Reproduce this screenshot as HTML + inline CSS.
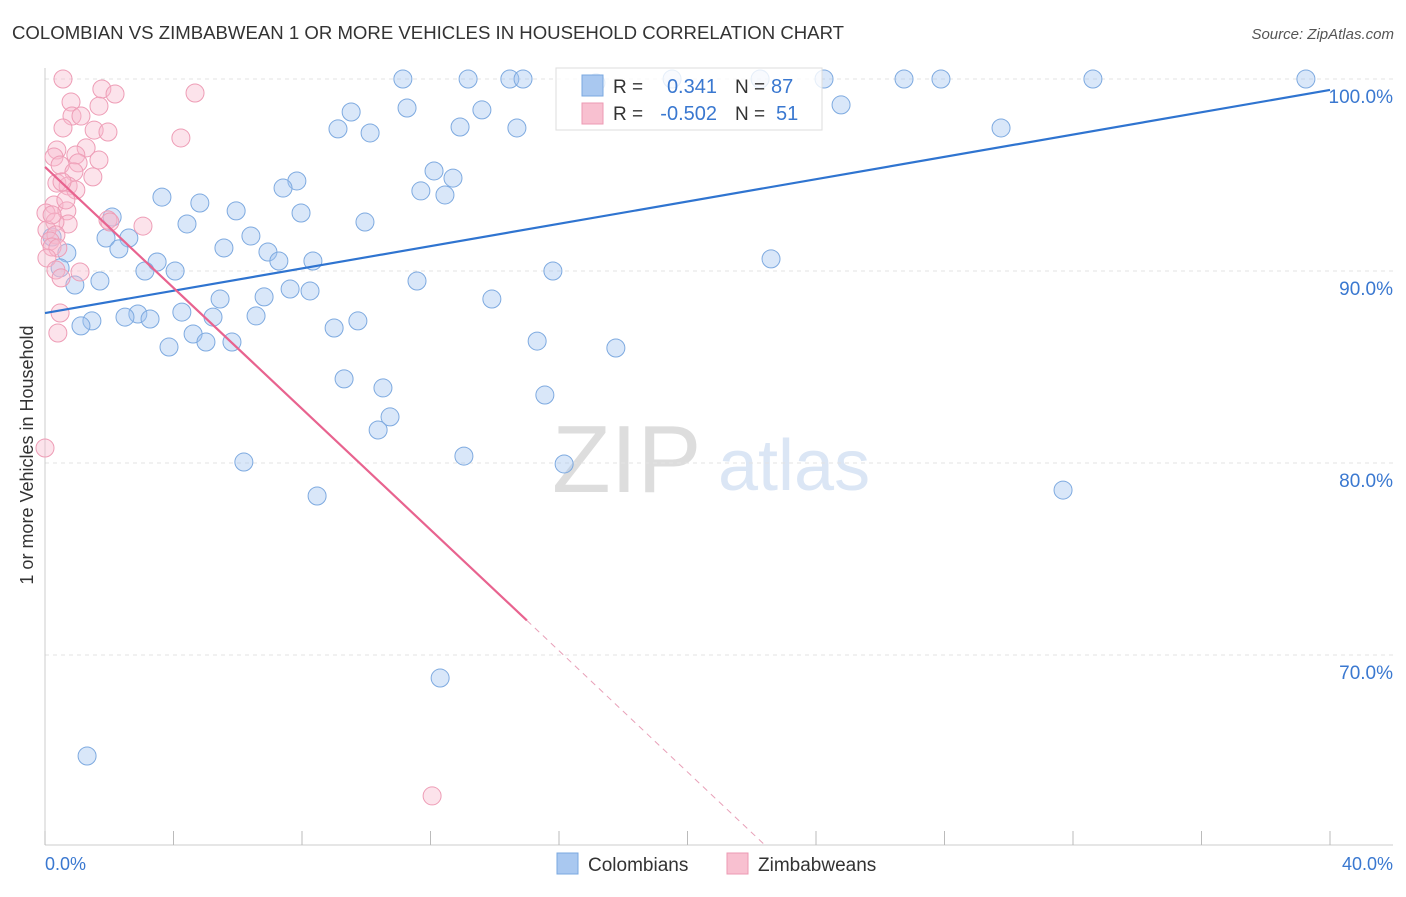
<!DOCTYPE html>
<html><head><meta charset="utf-8"><style>
body{margin:0;background:#fff;font-family:"Liberation Sans",sans-serif;}
svg text{font-family:"Liberation Sans",sans-serif;}
</style></head><body>
<svg id="chart" width="1406" height="892">
<text x="12" y="39" font-size="18.6" fill="#333">COLOMBIAN VS ZIMBABWEAN 1 OR MORE VEHICLES IN HOUSEHOLD CORRELATION CHART</text>
<text x="1394" y="39" font-size="15" fill="#555" text-anchor="end" font-style="italic">Source: ZipAtlas.com</text>
<text x="33" y="455" font-size="18" fill="#333" text-anchor="middle" transform="rotate(-90 33 455)">1 or more Vehicles in Household</text>
<text x="552" y="492" font-size="96" fill="#ddd" font-family="Liberation Serif">ZIP</text>
<text x="718" y="490" font-size="72" fill="#dbe6f5">atlas</text>
<g id="grid"></g><g id="pts"></g><g id="lines"></g>
<g>
<rect x="556" y="68" width="266" height="62" fill="rgba(255,255,255,0.8)" stroke="#ddd"/>
<rect x="582" y="75" width="21" height="21" fill="#a9c8f0" stroke="#7aa8e0"/>
<rect x="582" y="103" width="21" height="21" fill="#f8c0d0" stroke="#ec9ab3"/>
<text x="613" y="93" font-size="19" fill="#333">R =</text><text x="717" y="93" font-size="20" fill="#3a78d0" text-anchor="end">0.341</text>
<text x="735" y="93" font-size="19" fill="#333">N =</text><text x="771" y="93" font-size="20" fill="#3a78d0">87</text>
<text x="613" y="120" font-size="19" fill="#333">R =</text><text x="717" y="120" font-size="20" fill="#3a78d0" text-anchor="end">-0.502</text>
<text x="735" y="120" font-size="19" fill="#333">N =</text><text x="776" y="120" font-size="20" fill="#3a78d0">51</text>
</g>
<g>
<rect x="557" y="853" width="21" height="21" fill="#a9c8f0" stroke="#7aa8e0"/>
<text x="588" y="871" font-size="19" fill="#333">Colombians</text>
<rect x="727" y="853" width="21" height="21" fill="#f8c0d0" stroke="#ec9ab3"/>
<text x="758" y="871" font-size="19" fill="#333">Zimbabweans</text>
</g>
<text x="45" y="870" font-size="18" fill="#3a78d0">0.0%</text>
<text x="1393" y="870" font-size="18" fill="#3a78d0" text-anchor="end">40.0%</text>
</svg>
<script>
const yTicks=[100,90,80,70];
const yTickLabels=["100.0%","90.0%","80.0%","70.0%"];
const xTicks=[0,4,8,12,16,20,24,28,32,36,40];
const blueX=[11.14,13.17,14.47,14.88,17.15,19.52,22.26,24.25,26.74,27.89,32.62,39.25,24.78,9.53,11.27,13.6,9.12,10.12,12.92,14.69,29.76,12.11,12.7,7.84,7.41,11.7,12.45,3.64,4.82,5.95,7.97,9.96,2.09,4.42,1.9,2.61,6.41,0.22,2.3,5.57,6.94,7.28,8.34,0.68,3.49,0.47,3.11,4.05,15.81,22.6,11.58,1.71,0.93,7.63,8.25,6.82,5.45,13.91,4.26,2.89,2.49,3.27,5.23,6.57,1.46,1.12,9.74,9.0,4.61,3.86,5.01,5.82,15.32,17.77,9.31,10.52,15.56,10.74,10.37,13.04,6.19,16.16,8.47,31.69,12.3,1.31];
const blueY=[100,100,100,100,99.8,100,100,100,100,100,100,100,98.65,98.28,98.49,98.39,97.4,97.19,97.5,97.45,97.45,95.21,94.84,94.69,94.32,94.17,93.96,93.85,93.54,93.13,93.02,92.55,92.81,92.45,91.72,91.72,91.82,91.77,91.15,91.2,90.99,90.52,90.52,90.94,90.47,90.16,90.0,90.0,90.0,90.63,89.48,89.48,89.27,89.06,88.96,88.65,88.54,88.54,87.86,87.76,87.6,87.5,87.6,87.66,87.4,87.14,87.4,87.03,86.72,86.04,86.3,86.3,86.35,85.99,84.38,83.91,83.54,82.4,81.72,80.36,80.05,79.95,78.28,78.59,68.8,64.74];
const pinkX=[0.56,1.77,2.18,4.67,0.81,1.68,0.84,1.12,0.56,1.53,1.96,4.23,0.37,1.28,0.96,0.28,1.68,1.03,0.47,0.9,1.49,0.37,0.72,0.96,0.28,0.68,0.03,1.96,3.05,0.72,0.31,0.06,0.34,0.16,0.22,0.4,0.06,1.09,0.34,0.5,0.47,0.4,0,12.05,2.02,0.22,0.53,0.65];
const pinkY=[100,99.48,99.22,99.27,98.8,98.59,98.07,98.07,97.45,97.34,97.24,96.93,96.3,96.41,96.04,95.94,95.78,95.63,95.52,95.16,94.9,94.58,94.43,94.22,93.44,93.13,93.02,92.66,92.34,92.45,92.55,92.14,91.88,91.56,91.25,91.2,90.68,89.95,90.05,89.64,87.81,86.77,80.78,62.66,92.55,92.92,94.64,93.7];
const blueTrend=[[0,87.81],[40,99.43]];
const pinkTrend=[[0,95.42],[15,71.8],[22.41,60.1]];
const NS="http://www.w3.org/2000/svg";
const sx=v=>45+v*32.125, sy=v=>79+(100-v)*19.2;
function mk(tag,attrs,parent){const e=document.createElementNS(NS,tag);for(const k in attrs)e.setAttribute(k,attrs[k]);parent.appendChild(e);return e;}
const grid=document.getElementById('grid');
yTicks.forEach((t,i)=>{
 const l=mk('line',{x1:45,x2:1393,y1:sy(t),y2:sy(t),stroke:'#e3e3e3','stroke-dasharray':'4,4'},grid);
 
 
 const tx=mk('text',{x:1393,y:sy(t)+24,'font-size':19,fill:'#3a78d0','text-anchor':'end'},grid);
 tx.textContent=yTickLabels[i];
 
 
});
const ax=mk('line',{x1:45,x2:1393,y1:845,y2:845,stroke:'#ccc'},grid);


const ay=mk('line',{x1:45,x2:45,y1:68,y2:845,stroke:'#ccc'},grid);


xTicks.forEach(t=>{
 const l=mk('line',{x1:sx(t),x2:sx(t),y1:831,y2:845,stroke:'#bbb'},grid);
 
 
});
const pts=document.getElementById('pts');
blueX.forEach((x,i)=>{
 const c=mk('circle',{cx:sx(x),cy:sy(blueY[i]),r:9,fill:'rgba(160,195,240,0.4)',stroke:'#7eaae0','stroke-width':1},pts);
 
 
});
pinkX.forEach((x,i)=>{
 const c=mk('circle',{cx:sx(x),cy:sy(pinkY[i]),r:9,fill:'rgba(248,185,205,0.4)',stroke:'#ee9db6','stroke-width':1},pts);
 
 
});
const lines=document.getElementById('lines');
const bl=mk('line',{x1:sx(blueTrend[0][0]),y1:sy(blueTrend[0][1]),x2:sx(blueTrend[1][0]),y2:sy(blueTrend[1][1]),stroke:'#2f74d0','stroke-width':2.2},lines);


const pl=mk('line',{x1:sx(pinkTrend[0][0]),y1:sy(pinkTrend[0][1]),x2:sx(pinkTrend[1][0]),y2:sy(pinkTrend[1][1]),stroke:'#e8638f','stroke-width':2.2},lines);


const pd=mk('line',{x1:sx(pinkTrend[1][0]),y1:sy(pinkTrend[1][1]),x2:sx(pinkTrend[2][0]),y2:sy(pinkTrend[2][1]),stroke:'#e8a0b8','stroke-width':1,'stroke-dasharray':'6,5'},lines);


</script>
</body></html>
